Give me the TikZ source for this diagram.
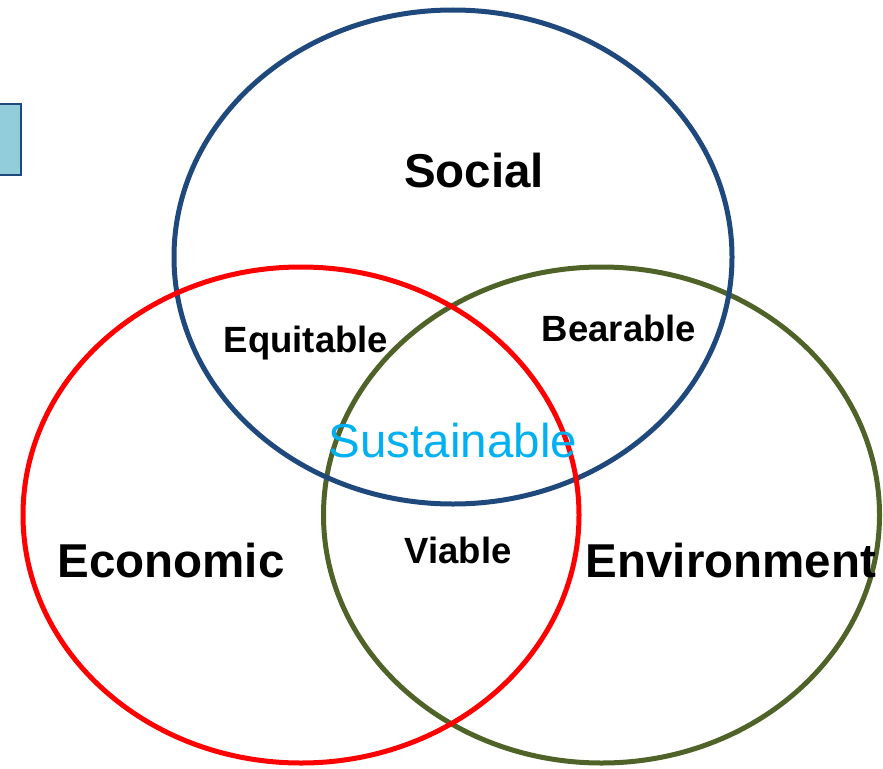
\documentclass[tikz,border=0pt]{standalone}
\usepackage{fontspec}
\setmainfont{Liberation Sans}
\usepackage{tikz}
\usetikzlibrary{shapes,backgrounds}

\definecolor{socialblue}{HTML}{1F497D}
\definecolor{econred}{HTML}{FF0000}
\definecolor{envgreen}{HTML}{4F6228}
\definecolor{sustcyan}{HTML}{00B0F0}
\definecolor{tabfill}{HTML}{92CDDC}

\tikzset{
	ring/.style={line width=5pt},
	bigword/.style={anchor=base, inner sep=0pt, font=\fontsize{47.5}{50}\selectfont\bfseries},
	midword/.style={anchor=base, inner sep=0pt, font=\fontsize{36.5}{40}\selectfont\bfseries}
}

\begin{document}
\begin{tikzpicture}[x=1pt,y=-1pt]
	\useasboundingbox (0,0) rectangle (883,768);
	\draw[socialblue, line width=1.5pt, fill=tabfill] (-5,104) rectangle (21,175);
	\draw[ring, envgreen] (601.5,515) ellipse (278pt and 248pt);    % Environment
	\draw[ring, socialblue] (453,257) ellipse (279pt and 247pt);    % Social
	\draw[ring, econred] (301,515) ellipse (278pt and 248pt);       % Economic
	\node[bigword] (social) at (474,187) {Social};
	\node[bigword] (economic) at (171,577) {Economic};
	\node[bigword] (environment) at (731,577) {Environment};
	\node[midword] (equitable) at (306,352) {Equitable};
	\node[midword] (bearable) at (619,341) {Bearable};
	\node[midword] (viable) at (458,563) {Viable};
	\node[anchor=base, inner sep=0pt, text=sustcyan, font=\fontsize{47.5}{50}\selectfont] (sustainable) at (453,457) {Sustainable};
\end{tikzpicture}
\end{document}
